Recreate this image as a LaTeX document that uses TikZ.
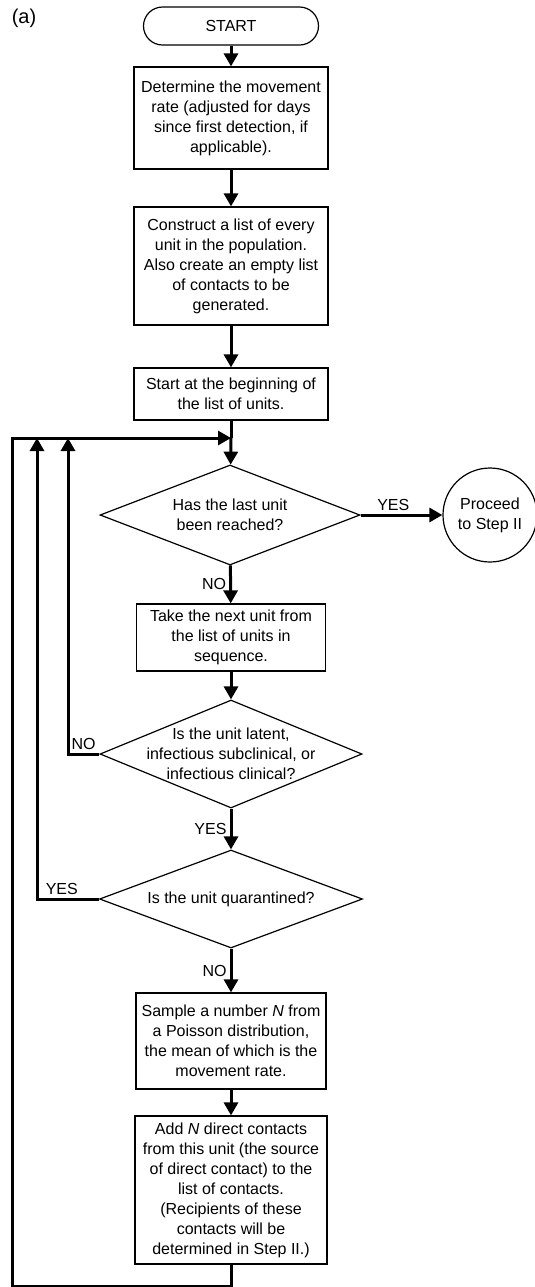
\documentclass[tikz,border=0pt]{standalone}
\usepackage{fontspec}
\setmainfont{Liberation Sans}
\usetikzlibrary{shapes.geometric, arrows.meta}
\tikzset{
	process/.style = {draw, line width=0.6pt, align=center, inner sep=1pt},
	decision/.style = {diamond, draw, line width=0.6pt, inner sep=0pt},
	answer/.style = {inner sep=1.5pt},
}

\begin{document}
\begin{tikzpicture}[x=0.5pt, y=-0.5pt, font=\fontsize{8}{10}\selectfont,
	>={Triangle[width=7pt, length=6.5pt]}, flow/.style={line width=1.5pt}]
	\useasboundingbox (0,0) rectangle (535,1287);

	\node [font=\fontsize{10}{12}\selectfont] (tag) at (24,18) {(a)};
	\node [process, rounded corners=9.5pt, minimum width=87.5pt, minimum height=19pt] (start) at (231,26) {START};
	\node [process, minimum width=97pt, minimum height=51pt] (rate) at (231,118) {Determine the movement\\rate (adjusted for days\\since first detection, if\\applicable).};
	\node [process, minimum width=97pt, minimum height=59pt] (build) at (231,266) {Construct a list of every\\unit in the population.\\Also create an empty list\\of contacts to be\\generated.};
	\node [process, minimum width=97pt, minimum height=26pt] (first) at (231,394) {Start at the beginning of\\the list of units.};
	\node [decision, minimum width=130pt, minimum height=50pt,
		label={[align=center]center:Has the last unit\\been reached?}] (last) at (230,515) {};
	\node [circle, draw, line width=0.6pt, minimum size=47pt, inner sep=0pt, align=center] (stepII) at (490,515) {Proceed\\to Step II};
	\node [process, minimum width=94.5pt, minimum height=33.5pt] (next) at (231,637.5) {Take the next unit from\\the list of units in\\sequence.};
	\node [decision, minimum width=131pt, minimum height=54pt,
		label={[align=center]center:Is the unit latent,\\infectious subclinical, or\\infectious clinical?}] (state) at (231,754) {};
	\node [decision, minimum width=131.5pt, minimum height=49pt,
		label={center:Is the unit quarantined?}] (quar) at (231,899) {};
	\node [process, minimum width=95pt, minimum height=48pt] (sample) at (231,1041) {Sample a number \textit{N} from\\a Poisson distribution,\\the mean of which is the\\movement rate.};
	\node [process, minimum width=96pt, minimum height=74pt] (add) at (231,1190) {Add \textit{N} direct contacts\\from this unit (the source\\of direct contact) to the\\list of contacts.\\(Recipients of these\\contacts will be\\determined in Step II.)};

	\coordinate (join) at (231,438);
	\coordinate (backA) at (68,438);
	\coordinate (backB) at (37,438);
	\coordinate (corner) at (12,1286);

	\draw [flow, ->] (start) -- (rate);
	\draw [flow, ->] (rate) -- (build);
	\draw [flow, ->] (build) -- (first);
	\draw [flow] (first) -- (join);
	\draw [flow, ->] (join) -- (last);
	\draw [flow, ->] (last) -- node [answer, above, pos=0.4] {YES} (stepII);
	\draw [flow, ->] (last) -- node [answer, left] {NO} (next);
	\draw [flow, ->] (next) -- (state);
	\draw [flow, ->] (state) -| node [answer, above, pos=0.25] {NO} (backA);
	\draw [flow, ->] (state) -- node [answer, left] {YES} (quar);
	\draw [flow, ->] (quar) -| node [answer, above, pos=0.3] {YES} (backB);
	\draw [flow, ->] (quar) -- node [answer, left] {NO} (sample);
	\draw [flow, ->] (sample) -- (add);
	\draw [flow, ->] (add) |- (corner) |- (join);
\end{tikzpicture}
\end{document}
